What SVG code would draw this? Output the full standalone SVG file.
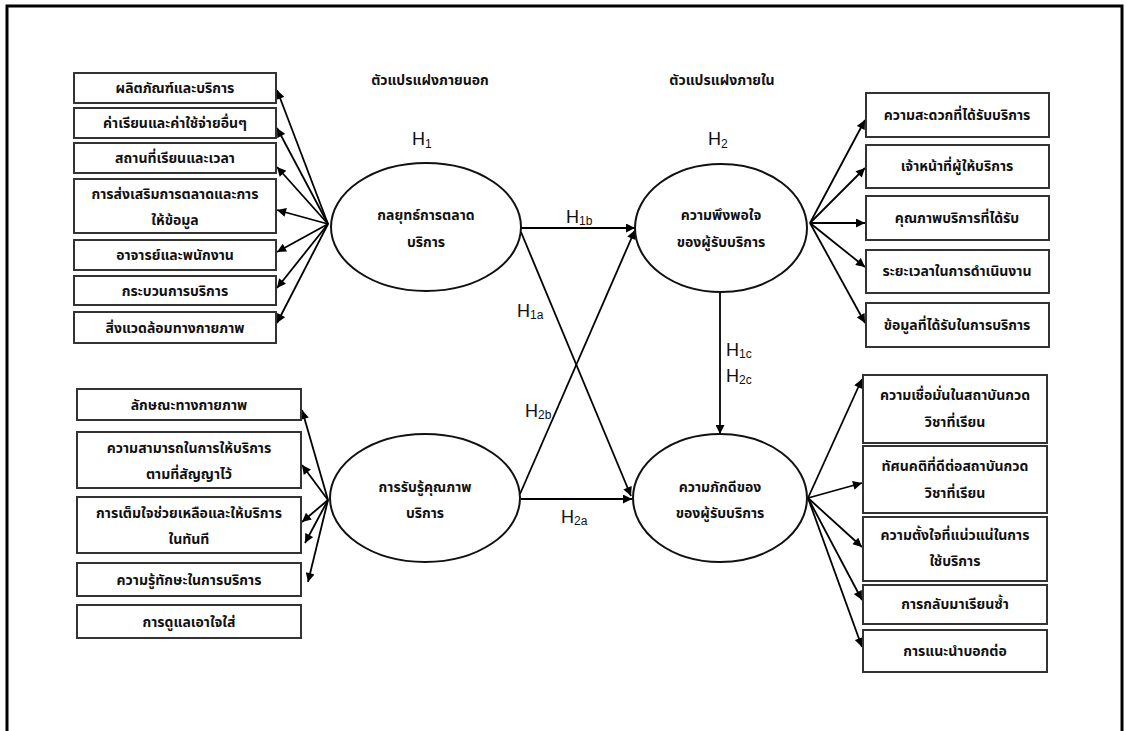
<svg xmlns="http://www.w3.org/2000/svg" width="1126" height="731" viewBox="0 0 1126 731">
  <defs>
    <marker id="arrow" viewBox="0 0 10 10" refX="10" refY="5" markerWidth="10" markerHeight="9" markerUnits="userSpaceOnUse" orient="auto">
      <path d="M0,0 L10,5 L0,10 z" fill="#000"/>
    </marker>
    <style>
      .frame { fill: #fff; stroke: #000; stroke-width: 3; }
      .box { fill: #fff; stroke: #333; stroke-width: 2; }
      .oval { fill: #fff; stroke: #111; stroke-width: 2; }
      .th { font-family: "Noto Sans Thai", "Noto Sans", "DejaVu Sans", sans-serif; font-size: 14px; font-weight: bold; fill: #111; text-anchor: middle; }
      .hd { font-family: "Noto Sans Thai", "Noto Sans", "DejaVu Sans", sans-serif; font-size: 14px; font-weight: bold; fill: #111; text-anchor: middle; }
      .h { font-family: "Liberation Sans", Arial, sans-serif; fill: #111; font-size: 18px; }
      .sub { font-size: 12px; }
      .link { stroke: #000; stroke-width: 1.8; fill: none; marker-end: url(#arrow); }
    </style>
  </defs>

  <!-- outer frame -->
  <rect class="frame" x="7" y="6" width="1115" height="740"/>

  <!-- column headings -->
  <text class="hd" x="430" y="85">ตัวแปรแฝงภายนอก</text>
  <text class="hd" x="722" y="85">ตัวแปรแฝงภายใน</text>

  <!-- hypothesis group labels -->
  <text class="h" x="412" y="145">H<tspan class="sub" dy="3">1</tspan></text>
  <text class="h" x="708" y="145">H<tspan class="sub" dy="3">2</tspan></text>

  <!-- connectors -->
  <g id="connectors">
    <!-- marketing strategy to its indicators -->
    <line class="link" x1="328" y1="224" x2="277" y2="90"/>
    <line class="link" x1="328" y1="224" x2="277" y2="128"/>
    <line class="link" x1="328" y1="224" x2="277" y2="167"/>
    <line class="link" x1="328" y1="224" x2="277" y2="210"/>
    <line class="link" x1="328" y1="224" x2="277" y2="252"/>
    <line class="link" x1="328" y1="224" x2="277" y2="288"/>
    <line class="link" x1="328" y1="224" x2="277" y2="323"/>
    <!-- perceived quality to its indicators -->
    <line class="link" x1="328" y1="500" x2="302" y2="410"/>
    <line class="link" x1="328" y1="500" x2="302" y2="465"/>
    <line class="link" x1="328" y1="500" x2="302" y2="522"/>
    <line class="link" x1="328" y1="500" x2="305" y2="543"/>
    <line class="link" x1="328" y1="500" x2="308" y2="582"/>
    <!-- satisfaction to its indicators -->
    <line class="link" x1="810" y1="223" x2="865" y2="120"/>
    <line class="link" x1="810" y1="223" x2="865" y2="168"/>
    <line class="link" x1="810" y1="223" x2="865" y2="223"/>
    <line class="link" x1="810" y1="223" x2="865" y2="267"/>
    <line class="link" x1="810" y1="223" x2="865" y2="323"/>
    <!-- loyalty to its indicators -->
    <line class="link" x1="808" y1="498" x2="862" y2="379"/>
    <line class="link" x1="808" y1="498" x2="862" y2="483"/>
    <line class="link" x1="808" y1="498" x2="862" y2="547"/>
    <line class="link" x1="808" y1="498" x2="862" y2="600"/>
    <line class="link" x1="808" y1="498" x2="862" y2="647"/>
    <!-- structural paths -->
    <line class="link" x1="521" y1="228" x2="635" y2="228"/>
    <line class="link" x1="521" y1="232" x2="631" y2="496"/>
    <line class="link" x1="520" y1="494" x2="635" y2="230"/>
    <line class="link" x1="521" y1="499" x2="632" y2="499"/>
    <line class="link" x1="720" y1="292" x2="720" y2="434"/>
  </g>

  <!-- path labels -->
  <text class="h" x="566" y="223">H<tspan class="sub" dy="2">1b</tspan></text>
  <text class="h" x="517" y="317">H<tspan class="sub" dy="2">1a</tspan></text>
  <text class="h" x="525" y="417">H<tspan class="sub" dy="2">2b</tspan></text>
  <text class="h" x="561" y="523">H<tspan class="sub" dy="2">2a</tspan></text>
  <text class="h" x="726" y="356">H<tspan class="sub" dy="2">1c</tspan></text>
  <text class="h" x="726" y="382">H<tspan class="sub" dy="2">2c</tspan></text>

  <!-- latent variables -->
  <g id="marketing-strategy">
    <ellipse class="oval" cx="426" cy="227" rx="95" ry="64"/>
    <text class="th" x="426" y="220">กลยุทธ์การตลาด</text>
    <text class="th" x="426" y="247">บริการ</text>
  </g>
  <g id="satisfaction">
    <ellipse class="oval" cx="721" cy="228" rx="86" ry="64"/>
    <text class="th" x="721" y="220">ความพึงพอใจ</text>
    <text class="th" x="721" y="247">ของผู้รับบริการ</text>
  </g>
  <g id="perceived-quality">
    <ellipse class="oval" cx="425" cy="498" rx="95" ry="64"/>
    <text class="th" x="425" y="492">การรับรู้คุณภาพ</text>
    <text class="th" x="425" y="518">บริการ</text>
  </g>
  <g id="loyalty">
    <ellipse class="oval" cx="720" cy="498" rx="87" ry="64"/>
    <text class="th" x="720" y="492">ความภักดีของ</text>
    <text class="th" x="720" y="518">ของผู้รับบริการ</text>
  </g>

  <!-- marketing strategy indicators -->
  <g id="ms-product"><rect class="box" x="74" y="73" width="202" height="30"/><text class="th" x="175" y="93">ผลิตภัณฑ์และบริการ</text></g>
  <g id="ms-price"><rect class="box" x="74" y="108" width="202" height="30"/><text class="th" x="175" y="128">ค่าเรียนและค่าใช้จ่ายอื่นๆ</text></g>
  <g id="ms-place"><rect class="box" x="74" y="143" width="202" height="30"/><text class="th" x="175" y="163">สถานที่เรียนและเวลา</text></g>
  <g id="ms-promotion"><rect class="box" x="74" y="179" width="202" height="54"/><text class="th" x="175" y="199">การส่งเสริมการตลาดและการ</text><text class="th" x="175" y="225">ให้ข้อมูล</text></g>
  <g id="ms-people"><rect class="box" x="74" y="240" width="202" height="30"/><text class="th" x="175" y="260">อาจารย์และพนักงาน</text></g>
  <g id="ms-process"><rect class="box" x="74" y="276" width="202" height="29"/><text class="th" x="175" y="296">กระบวนการบริการ</text></g>
  <g id="ms-physical"><rect class="box" x="74" y="312" width="202" height="31"/><text class="th" x="175" y="333">สิ่งแวดล้อมทางกายภาพ</text></g>

  <!-- perceived quality indicators -->
  <g id="pq-tangible"><rect class="box" x="77" y="389" width="224" height="31"/><text class="th" x="189" y="410">ลักษณะทางกายภาพ</text></g>
  <g id="pq-reliability"><rect class="box" x="77" y="432" width="224" height="56"/><text class="th" x="189" y="453">ความสามารถในการให้บริการ</text><text class="th" x="189" y="479">ตามที่สัญญาไว้</text></g>
  <g id="pq-responsiveness"><rect class="box" x="77" y="497" width="224" height="56"/><text class="th" x="189" y="518">การเต็มใจช่วยเหลือและให้บริการ</text><text class="th" x="189" y="544">ในทันที</text></g>
  <g id="pq-assurance"><rect class="box" x="77" y="563" width="224" height="33"/><text class="th" x="189" y="585">ความรู้ทักษะในการบริการ</text></g>
  <g id="pq-empathy"><rect class="box" x="77" y="605" width="224" height="33"/><text class="th" x="189" y="627">การดูแลเอาใจใส่</text></g>

  <!-- satisfaction indicators -->
  <g id="sa-convenience"><rect class="box" x="866" y="93" width="183" height="44"/><text class="th" x="957" y="120">ความสะดวกที่ได้รับบริการ</text></g>
  <g id="sa-staff"><rect class="box" x="866" y="145" width="183" height="43"/><text class="th" x="957" y="171">เจ้าหน้าที่ผู้ให้บริการ</text></g>
  <g id="sa-quality"><rect class="box" x="866" y="196" width="183" height="44"/><text class="th" x="957" y="223">คุณภาพบริการที่ได้รับ</text></g>
  <g id="sa-time"><rect class="box" x="866" y="250" width="183" height="43"/><text class="th" x="957" y="276">ระยะเวลาในการดำเนินงาน</text></g>
  <g id="sa-information"><rect class="box" x="866" y="303" width="183" height="44"/><text class="th" x="957" y="330">ข้อมูลที่ได้รับในการบริการ</text></g>

  <!-- loyalty indicators -->
  <g id="lo-trust"><rect class="box" x="863" y="375" width="184" height="68"/><text class="th" x="955" y="400">ความเชื่อมั่นในสถาบันกวด</text><text class="th" x="955" y="427">วิชาที่เรียน</text></g>
  <g id="lo-attitude"><rect class="box" x="863" y="446" width="184" height="67"/><text class="th" x="955" y="471">ทัศนคติที่ดีต่อสถาบันกวด</text><text class="th" x="955" y="498">วิชาที่เรียน</text></g>
  <g id="lo-intention"><rect class="box" x="863" y="517" width="184" height="64"/><text class="th" x="955" y="540">ความตั้งใจที่แน่วแน่ในการ</text><text class="th" x="955" y="566">ใช้บริการ</text></g>
  <g id="lo-repurchase"><rect class="box" x="863" y="585" width="184" height="39"/><text class="th" x="955" y="609">การกลับมาเรียนซ้ำ</text></g>
  <g id="lo-referral"><rect class="box" x="863" y="630" width="184" height="42"/><text class="th" x="955" y="656">การแนะนำบอกต่อ</text></g>
</svg>
